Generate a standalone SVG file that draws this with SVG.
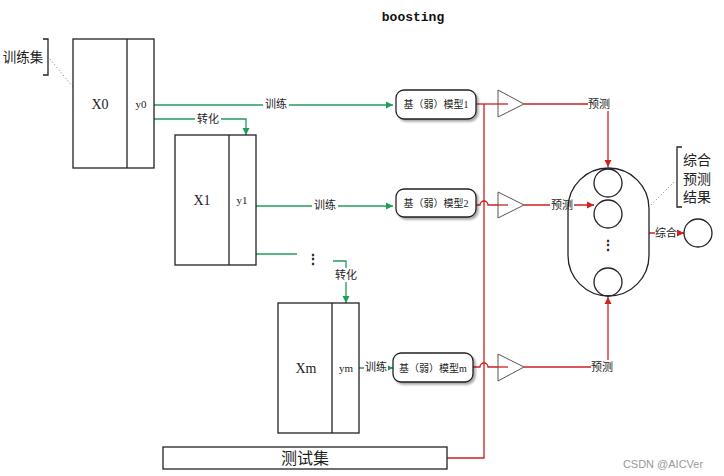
<svg xmlns="http://www.w3.org/2000/svg" width="724" height="476" viewBox="0 0 724 476">
<defs>
<marker id="ag" markerWidth="8" markerHeight="8" refX="7" refY="4" orient="auto" markerUnits="userSpaceOnUse"><path d="M0,0.5 L7,4 L0,7.5 Z" fill="#1f9e5a"/></marker>
<marker id="ar" markerWidth="8" markerHeight="8" refX="7" refY="4" orient="auto" markerUnits="userSpaceOnUse"><path d="M0,0.5 L7,4 L0,7.5 Z" fill="#d02020"/></marker>
<filter id="sh" x="-10%" y="-20%" width="130%" height="160%"><feDropShadow dx="2" dy="2" stdDeviation="1.2" flood-color="#000" flood-opacity="0.35"/></filter>
</defs>
<style>
.box{fill:#fff;stroke:#222;stroke-width:1.3}
.t{font-family:"Liberation Serif","Noto Sans CJK SC",serif;fill:#222;text-anchor:middle;dominant-baseline:central}
.g{fill:none;stroke:#1f9e5a;stroke-width:1.3}
.r{fill:none;stroke:#d02020;stroke-width:1.3}
.lb{font-family:"Liberation Serif","Noto Sans CJK SC",serif;font-size:11px;fill:#222;text-anchor:middle;dominant-baseline:central}
.bg{fill:#fff}
.tri{fill:#fff;stroke:#555;stroke-width:1}
.model{fill:#fff;stroke:#222;stroke-width:1.3}
.mt{font-size:10px}
</style>
<rect width="724" height="476" fill="#fff"/>
<text x="413" y="17" font-family="Liberation Mono, monospace" font-size="13" font-weight="bold" text-anchor="middle" dominant-baseline="central" fill="#111">boosting</text>

<g id="connectors">
<path class="g" d="M154,105 H393" marker-end="url(#ag)"/>
<path class="g" d="M154,119 H246 V135" marker-end="url(#ag)"/>
<path class="g" d="M256,206 H393" marker-end="url(#ag)"/>
<path class="g" d="M256,254 H297"/>
<path class="g" d="M333,261 H346 V303" marker-end="url(#ag)"/>
<path class="g" d="M359,368 H393" marker-end="url(#ag)"/>
<path class="r" d="M447,458 H484 V104"/>
<path class="r" d="M476,104 H508"/>
<path class="r" d="M476,205 H480 A4,4 0 0 1 488,205 H508"/>
<path class="r" d="M473,367 H480 A4,4 0 0 1 488,367 H508"/>
<path class="r" d="M524,104 H608 V167" marker-end="url(#ar)"/>
<path class="r" d="M524,205 H594" marker-end="url(#ar)"/>
<path class="r" d="M524,367 H608 V297" marker-end="url(#ar)"/>
<path class="r" d="M649,233 H684" marker-end="url(#ar)"/>
<path d="M50,59 L73,87" stroke="#777" stroke-width="1" stroke-dasharray="1,2.5" fill="none"/>
<path d="M651,205 L675,181" stroke="#777" stroke-width="1" stroke-dasharray="1,2.5" fill="none"/>
<rect class="bg" x="263" y="98" width="26" height="13"/><text class="lb" x="276" y="104">训练</text>
<rect class="bg" x="195" y="112" width="26" height="13"/><text class="lb" x="208" y="119">转化</text>
<rect class="bg" x="312" y="199" width="26" height="13"/><text class="lb" x="325" y="205">训练</text>
<rect class="bg" x="333" y="268" width="26" height="14"/><text class="lb" x="346" y="275">转化</text>
<rect class="bg" x="364" y="361" width="24" height="13"/><text class="lb" x="376" y="367">训练</text>
<rect class="bg" x="588" y="97" width="22" height="14"/><text class="lb" x="599" y="104">预测</text>
<rect class="bg" x="550" y="198" width="24" height="14"/><text class="lb" x="562" y="205">预测</text>
<rect class="bg" x="591" y="360" width="22" height="14"/><text class="lb" x="602" y="367">预测</text>
<rect class="bg" x="655" y="226" width="22" height="14"/><text class="lb" x="666" y="233">综合</text>
<text class="t" x="313" y="259" font-size="14" font-weight="bold">⋮</text>
</g>

<g id="train-label">
<text class="t" x="23" y="57" font-size="13.5">训练集</text>
<path d="M43,39 H48 V75 H43" fill="none" stroke="#222" stroke-width="1.3"/>
</g>

<g id="X0">
<rect class="box" x="73" y="39" width="81" height="129"/>
<line x1="127" y1="39" x2="127" y2="168" stroke="#222" stroke-width="1.3"/>
<text class="t" x="100" y="104" font-size="14">X0</text>
<text class="t" x="141" y="104" font-size="11">y0</text>
</g>

<g id="X1">
<rect class="box" x="175" y="135" width="81" height="130"/>
<line x1="229" y1="135" x2="229" y2="265" stroke="#222" stroke-width="1.3"/>
<text class="t" x="202" y="200" font-size="14">X1</text>
<text class="t" x="242" y="200" font-size="11">y1</text>
</g>

<g id="Xm">
<rect class="box" x="278" y="303" width="81" height="130"/>
<line x1="332" y1="303" x2="332" y2="433" stroke="#222" stroke-width="1.3"/>
<text class="t" x="306" y="368" font-size="14">Xm</text>
<text class="t" x="346" y="368" font-size="11">ym</text>
</g>

<g id="test">
<rect class="box" x="163" y="447" width="284" height="22"/>
<text class="t" x="305" y="458" font-size="16">测试集</text>
</g>

<g id="model1">
<rect class="model" x="396" y="90" width="80" height="29" rx="8" filter="url(#sh)"/>
<text class="t mt" x="436" y="104">基（弱）模型1</text>
</g>
<g id="model2">
<rect class="model" x="396" y="189" width="80" height="28" rx="8" filter="url(#sh)"/>
<text class="t mt" x="436" y="203">基（弱）模型2</text>
</g>
<g id="modelm">
<rect class="model" x="393" y="353" width="80" height="29" rx="8" filter="url(#sh)"/>
<text class="t mt" x="433" y="368">基（弱）模型m</text>
</g>

<g id="tri1"><path class="tri" d="M498,90 L524,104 L498,117 Z"/><path class="r" d="M498,104 H508"/></g>
<g id="tri2"><path class="tri" d="M498,192 L524,205 L498,218 Z"/><path class="r" d="M498,205 H508"/></g>
<g id="trim"><path class="tri" d="M498,354 L524,367 L498,381 Z"/><path class="r" d="M498,367 H508"/></g>

<g id="ensemble">
<rect x="568" y="168" width="81" height="128" rx="40.5" fill="none" stroke="#222" stroke-width="1.3"/>
<circle cx="608" cy="183" r="14" fill="none" stroke="#222" stroke-width="1.3"/>
<circle cx="608" cy="214" r="14" fill="none" stroke="#222" stroke-width="1.3"/>
<circle cx="608" cy="282" r="14" fill="none" stroke="#222" stroke-width="1.3"/>
<text class="t" x="608" y="245" font-size="14" font-weight="bold">⋮</text>
</g>

<g id="result-label">
<path d="M682,147 H677 V207 H682" fill="none" stroke="#222" stroke-width="1.3"/>
<text class="t" x="697" y="160" font-size="14">综合</text>
<text class="t" x="697" y="179" font-size="14">预测</text>
<text class="t" x="697" y="197" font-size="14">结果</text>
</g>

<g id="result">
<circle cx="698" cy="233" r="14" fill="none" stroke="#222" stroke-width="1.3"/>
</g>

<text x="663" y="464" font-family="Liberation Sans, Noto Sans, sans-serif" font-size="11" fill="#999" text-anchor="middle" dominant-baseline="central">CSDN @AICVer</text>
</svg>
